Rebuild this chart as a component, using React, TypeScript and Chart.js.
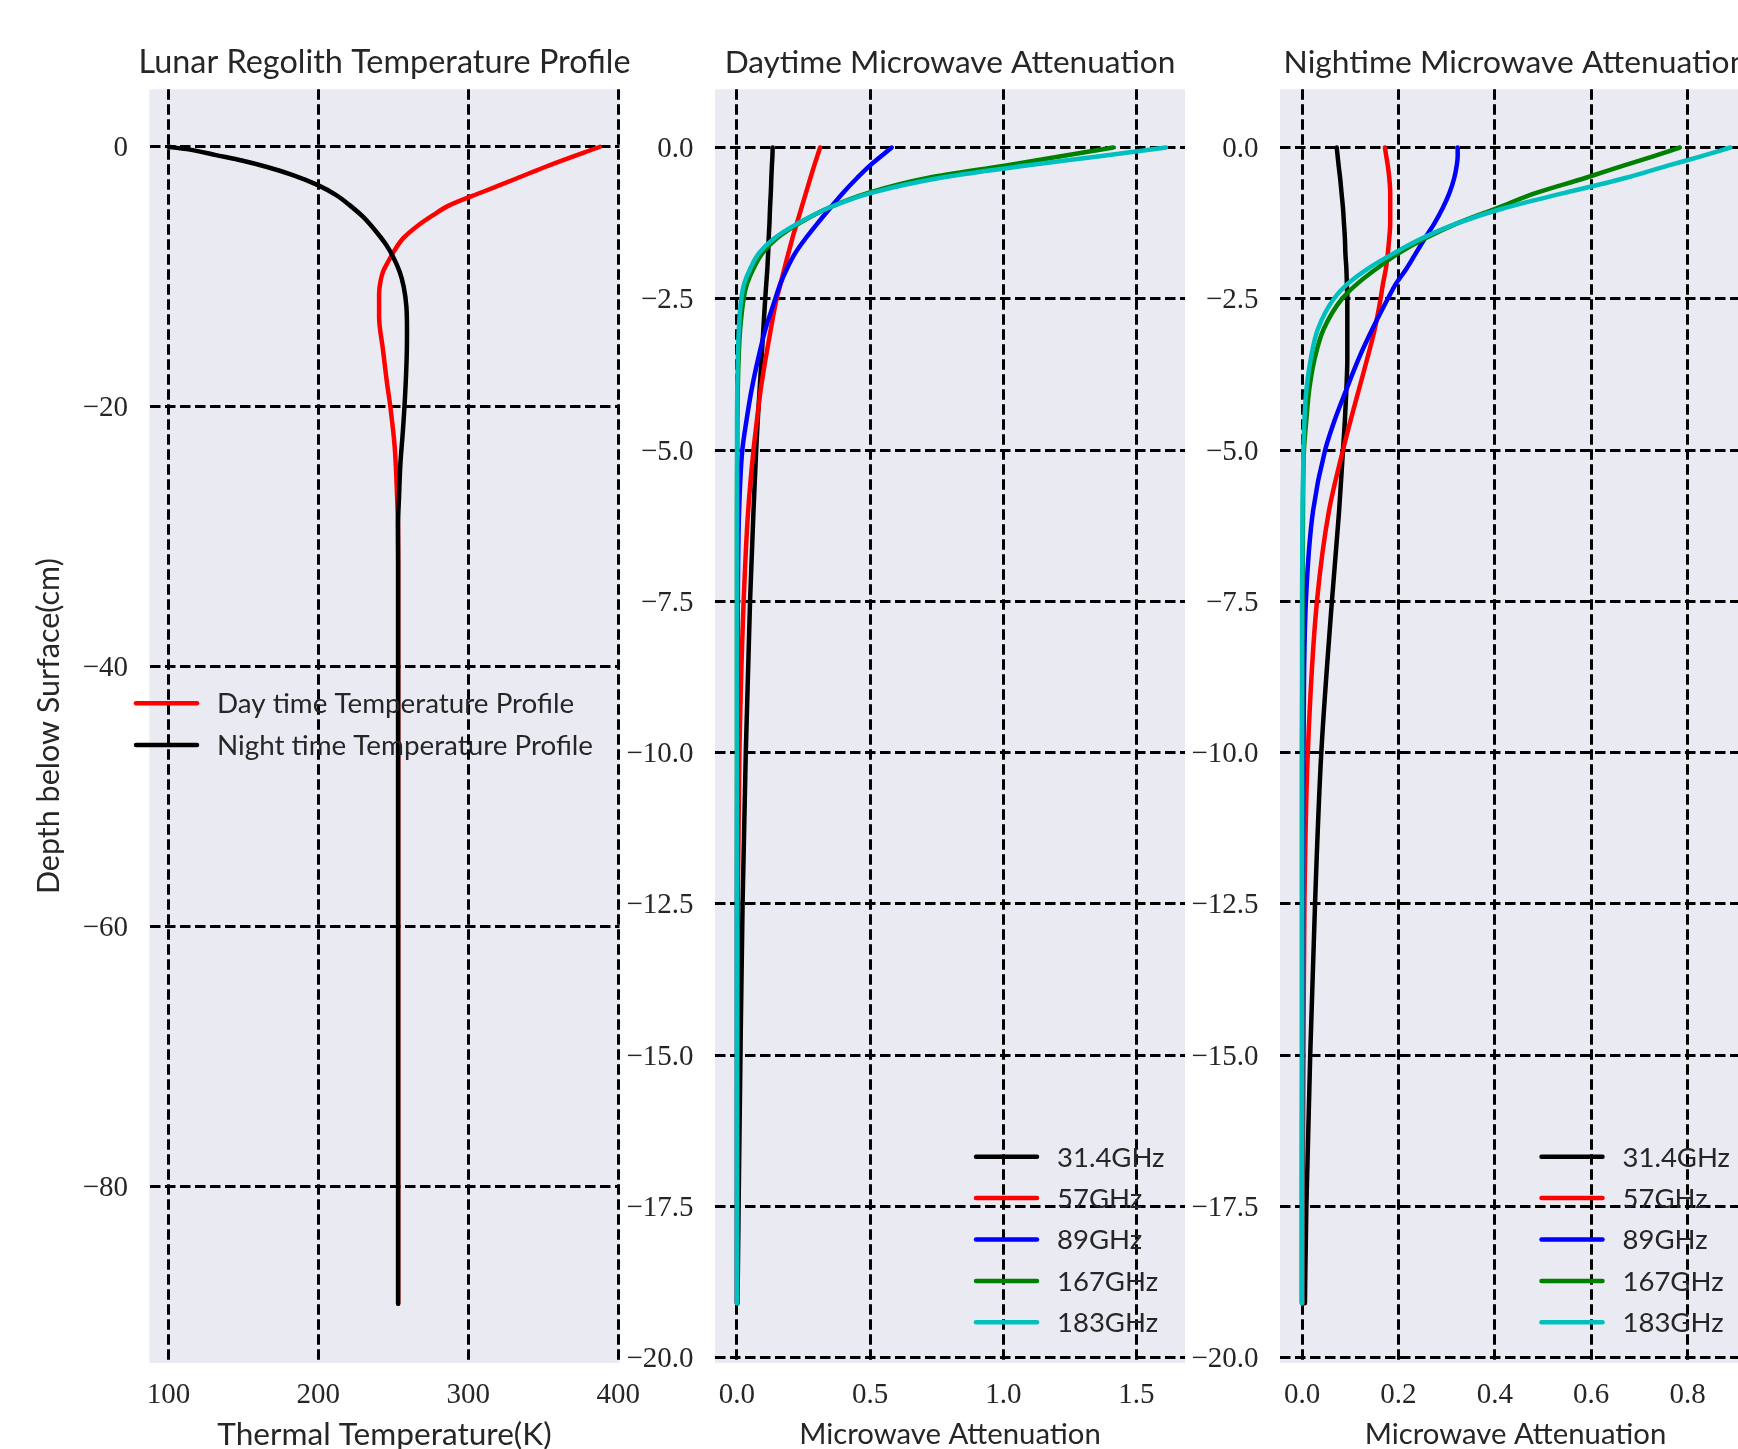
import React, { useEffect, useRef } from 'react';
import { Chart, registerables } from 'chart.js';

Chart.register(...registerables);

// ---------------- Panel 1: temperature profiles ----------------
const dayDepth = [0, -1.41, -2.44, -3.46, -4.49, -5.26, -6.15, -7.05, -7.95, -8.85, -9.62, -10.38, -11.28, -13.08, -15.64, -18.2, -20, -23.1, -26.9, -29.2, -32, -40, -50, -60, -70, -80, -89];
const dayTemp = [387.8, 354.4, 332.1, 309.9, 287.6, 276.5, 265.4, 256.5, 250.9, 246.5, 243.1, 241.4, 240.5, 240.5, 243.1, 245.8, 248.0, 250.9, 252.5, 253.1, 253.2, 253.2, 253.2, 253.2, 253.2, 253.2, 253.2];

const nightDepth = [0, -0.26, -0.64, -1.08, -1.54, -2.18, -2.95, -3.72, -4.49, -5.38, -6.54, -7.56, -8.46, -9.62, -10.77, -12.31, -14.1, -16.15, -19.2, -21.8, -24.4, -26.9, -29.2, -32, -40, -50, -60, -70, -80, -89];
const nightTemp = [100, 116.2, 131.8, 149.6, 165.2, 183.0, 199.7, 211.9, 220.8, 229.7, 238.6, 245.3, 249.8, 254.2, 256.9, 258.7, 259.1, 258.9, 257.8, 256.4, 254.7, 253.8, 253.1, 253.2, 253.2, 253.2, 253.2, 253.2, 253.2, 253.2];

const tempTicks = [100, 200, 300, 400];
const tempTickLabels = ['100', '200', '300', '400'];
const depthTicks = [0, -20, -40, -60, -80];
const depthTickLabels = ['0', '\u221220', '\u221240', '\u221260', '\u221280'];

// ---------------- Panels 2 & 3: microwave attenuation ----------------
const attDepth = [0, -0.15, -0.3, -0.5, -0.75, -1, -1.25, -1.5, -1.75, -2, -2.25, -2.5, -3, -3.5, -4, -4.5, -5, -6, -7.5, -10, -12.5, -15, -17.5, -19.1];
const freqLabels = ['31.4GHz', '57GHz', '89GHz', '167GHz', '183GHz'];

const day31 = [0.134, 0.133, 0.131, 0.129, 0.127, 0.124, 0.122, 0.119, 0.117, 0.114, 0.110, 0.106, 0.099, 0.092, 0.085, 0.078, 0.072, 0.062, 0.049, 0.033, 0.021, 0.013, 0.006, 0.002];
const day57 = [0.312, 0.301, 0.290, 0.276, 0.259, 0.242, 0.225, 0.208, 0.193, 0.178, 0.164, 0.149, 0.127, 0.107, 0.089, 0.075, 0.062, 0.042, 0.025, 0.009, 0.003, 0.001, 0.0005, 0];
const day89 = [0.581, 0.540, 0.499, 0.452, 0.398, 0.350, 0.303, 0.258, 0.218, 0.188, 0.163, 0.144, 0.107, 0.079, 0.055, 0.036, 0.020, 0.008, 0.003, 0.001, 0, 0, 0, 0];
const day167 = [1.413, 1.211, 1.005, 0.720, 0.493, 0.343, 0.235, 0.150, 0.095, 0.062, 0.038, 0.025, 0.012, 0.006, 0.003, 0.0015, 0.001, 0, 0, 0, 0, 0, 0, 0];
const day183 = [1.611, 1.355, 1.080, 0.765, 0.505, 0.343, 0.230, 0.140, 0.082, 0.050, 0.027, 0.016, 0.007, 0.003, 0.001, 0, 0, 0, 0, 0, 0, 0, 0, 0];

const night31 = [0.072, 0.074, 0.076, 0.079, 0.082, 0.085, 0.087, 0.089, 0.090, 0.092, 0.093, 0.094, 0.094, 0.094, 0.092, 0.089, 0.085, 0.077, 0.062, 0.040, 0.027, 0.017, 0.009, 0.006];
const night57 = [0.172, 0.175, 0.178, 0.181, 0.183, 0.183, 0.183, 0.181, 0.178, 0.174, 0.168, 0.163, 0.151, 0.135, 0.118, 0.101, 0.085, 0.056, 0.031, 0.012, 0.005, 0.003, 0.0015, 0.001];
const night89 = [0.323, 0.323, 0.321, 0.316, 0.306, 0.292, 0.275, 0.255, 0.236, 0.217, 0.195, 0.178, 0.146, 0.117, 0.092, 0.068, 0.048, 0.023, 0.008, 0.003, 0.001, 0.0005, 0, 0];
const night167 = [0.784, 0.727, 0.667, 0.589, 0.486, 0.405, 0.323, 0.256, 0.200, 0.155, 0.115, 0.083, 0.045, 0.026, 0.015, 0.009, 0.004, 0.002, 0.001, 0, 0, 0, 0, 0];
const night183 = [0.889, 0.826, 0.759, 0.673, 0.545, 0.420, 0.323, 0.249, 0.190, 0.137, 0.095, 0.066, 0.033, 0.018, 0.009, 0.005, 0.003, 0.001, 0, 0, 0, 0, 0, 0];

const attDepthTicks = [0, -2.5, -5, -7.5, -10, -12.5, -15, -17.5, -20];
const attDepthTickLabels = ['0.0', '\u22122.5', '\u22125.0', '\u22127.5', '\u221210.0', '\u221212.5', '\u221215.0', '\u221217.5', '\u221220.0'];
const dayAttTicks = [0, 0.5, 1, 1.5];
const dayAttTickLabels = ['0.0', '0.5', '1.0', '1.5'];
const nightAttTicks = [0, 0.2, 0.4, 0.6, 0.8];
const nightAttTickLabels = ['0.0', '0.2', '0.4', '0.6', '0.8'];

// ---------------- styling / layout ----------------
const CANVAS_W = 1780;
const CANVAS_H = 1449;
const PLOT_TOP = 89.3;
const PLOT_BOTTOM = 1363;
const TITLE_MID = 75.5; // effective reference line for title placement
const XTITLE_MID = 1435;
const SANS = 'Lato, "Open Sans", sans-serif';
const SERIF = '"Liberation Serif", "DejaVu Serif", serif';
const TEXT = '#262626';
const LINE_W = 4.5;
const freqColors = ['#000000', '#ff0000', '#0000ff', '#008000', '#00bfbf'];

const plotBg = {
  id: 'plotBg',
  beforeDraw(chart: any, _a: any, o: any) {
    const { ctx, chartArea: a } = chart;
    ctx.save();
    ctx.fillStyle = o.color;
    ctx.fillRect(a.left, a.top, a.right - a.left, a.bottom - a.top);
    ctx.restore();
  },
};

// Axes title centred over the plot area (not squeezed to the plot width)
const axTitle = {
  id: 'axTitle',
  afterDraw(chart: any, _a: any, o: any) {
    const { ctx, chartArea: a } = chart;
    ctx.save();
    ctx.font = `${o.size}px ${SANS}`;
    ctx.fillStyle = TEXT;
    ctx.textAlign = 'center';
    ctx.textBaseline = 'middle';
    ctx.fillText(o.text, (a.left + a.right) / 2, TITLE_MID - 0.387 * o.size);
    ctx.restore();
  },
};

const mplLegend = {
  id: 'mplLegend',
  afterDatasetsDraw(chart: any, _a: any, o: any) {
    const { ctx, chartArea: a } = chart;
    const x0 = (o.fromRight ? a.right : a.left) + o.dx;
    const y0 = (o.fromBottom ? a.bottom : a.top) + o.dy;
    ctx.save();
    ctx.font = `${o.size}px ${SANS}`;
    ctx.textBaseline = 'middle';
    ctx.textAlign = 'left';
    chart.data.datasets.forEach((ds: any, i: number) => {
      const y = y0 + i * o.rowGap;
      ctx.strokeStyle = ds.borderColor;
      ctx.lineWidth = o.lineWidth;
      ctx.lineCap = 'round';
      ctx.beginPath();
      ctx.moveTo(x0, y);
      ctx.lineTo(x0 + o.swatch, y);
      ctx.stroke();
      ctx.fillStyle = TEXT;
      ctx.fillText(ds.label, x0 + o.swatch + o.gap, y + 1);
    });
    ctx.restore();
  },
};

type Series = { label: string; xs: number[]; depth: number[]; color: string; order: number };

type Panel = {
  title: string;
  titleSize: number;
  xTitle: string;
  xTitleSize: number;
  yTitle?: string;
  series: Series[];
  L: number;
  R: number;
  padL: number;
  xMin: number;
  xMax: number;
  yMin: number;
  yMax: number;
  xTicks: number[];
  xLabels: string[];
  yTicks: number[];
  yLabels: string[];
  legend: any;
};

function makeConfig(p: Panel): any {
  const gridStyle = { color: '#000000', lineWidth: 3, drawTicks: false };
  const borderStyle = { display: false, dash: [10.5, 4.5] };
  const xts = p.xTitleSize;
  const xTitleBottom = CANVAS_H - xts / 2 - XTITLE_MID;
  return {
    type: 'line',
    data: {
      datasets: p.series.map((s) => ({
        label: s.label,
        data: s.xs.map((v, j) => ({ x: v, y: s.depth[j] })),
        borderColor: s.color,
        backgroundColor: s.color,
        borderWidth: LINE_W,
        pointRadius: 0,
        pointHoverRadius: 0,
        fill: false,
        cubicInterpolationMode: 'monotone',
        borderCapStyle: 'round',
        borderJoinStyle: 'round',
        order: s.order,
      })),
    },
    options: {
      animation: false,
      responsive: false,
      devicePixelRatio: 1,
      indexAxis: 'y',
      events: [],
      layout: { padding: { left: p.padL, right: CANVAS_W - p.R, top: PLOT_TOP, bottom: 0 } },
      plugins: {
        legend: { display: false },
        tooltip: { enabled: false },
        title: { display: false },
        axTitle: { text: p.title, size: p.titleSize },
        plotBg: { color: '#EAEAF2' },
        mplLegend: p.legend,
      },
      scales: {
        x: {
          type: 'linear',
          position: 'bottom',
          min: p.xMin,
          max: p.xMax,
          afterFit: (s: any) => { s.height = CANVAS_H - PLOT_BOTTOM; },
          afterBuildTicks: (s: any) => { s.ticks = p.xTicks.map((v) => ({ value: v })); },
          ticks: {
            callback: (_v: any, i: number) => p.xLabels[i],
            color: TEXT,
            font: { family: SERIF, size: 29, lineHeight: 1.2 },
            padding: 15,
            maxRotation: 0,
            autoSkip: false,
          },
          grid: gridStyle,
          border: borderStyle,
          title: {
            display: true,
            text: p.xTitle,
            color: TEXT,
            font: { family: SANS, size: xts, lineHeight: 1 },
            padding: { top: 0, bottom: xTitleBottom },
          },
        },
        y: {
          type: 'linear',
          position: 'left',
          min: p.yMin,
          max: p.yMax,
          afterFit: (s: any) => { s.width = p.L - p.padL; },
          afterBuildTicks: (s: any) => { s.ticks = p.yTicks.map((v) => ({ value: v })); },
          ticks: {
            callback: (_v: any, i: number) => p.yLabels[i],
            color: TEXT,
            font: { family: SERIF, size: 29, lineHeight: 1.2 },
            padding: 21.5,
            labelOffset: 2,
            autoSkip: false,
          },
          grid: gridStyle,
          border: borderStyle,
          title: {
            display: !!p.yTitle,
            text: p.yTitle || '',
            color: TEXT,
            font: { family: SANS, size: 30.5, lineHeight: 1 },
            padding: { top: 33.5, bottom: 0 },
          },
        },
      },
    },
    plugins: [plotBg, mplLegend, axTitle],
  };
}

const freqSeries = (values: number[][]): Series[] =>
  values.map((xs, i) => ({ label: freqLabels[i], xs, depth: attDepth, color: freqColors[i], order: 5 - i }));

const panels: Panel[] = [
  {
    title: 'Lunar Regolith Temperature Profile',
    titleSize: 32.4,
    xTitle: 'Thermal Temperature(K)',
    xTitleSize: 31.6,
    yTitle: 'Depth below Surface(cm)',
    series: [
      { label: 'Day time Temperature Profile', xs: dayTemp, depth: dayDepth, color: '#ff0000', order: 2 },
      { label: 'Night time Temperature Profile', xs: nightTemp, depth: nightDepth, color: '#000000', order: 1 },
    ],
    L: 149.5,
    R: 619.5,
    padL: 0,
    xMin: 87.4,
    xMax: 400.8,
    yMin: -93.56,
    yMax: 4.42,
    xTicks: tempTicks,
    xLabels: tempTickLabels,
    yTicks: depthTicks,
    yLabels: depthTickLabels,
    legend: { fromRight: false, fromBottom: false, dx: -13.5, dy: 614, rowGap: 41.7, swatch: 61, gap: 20, size: 27.8, lineWidth: LINE_W },
  },
  {
    title: 'Daytime Microwave Attenuation',
    titleSize: 31.6,
    xTitle: 'Microwave Attenuation',
    xTitleSize: 29.3,
    series: freqSeries([day31, day57, day89, day167, day183]),
    L: 715,
    R: 1185,
    padL: 560,
    xMin: -0.0826,
    xMax: 1.6825,
    yMin: -20.088,
    yMax: 0.962,
    xTicks: dayAttTicks,
    xLabels: dayAttTickLabels,
    yTicks: attDepthTicks,
    yLabels: attDepthTickLabels,
    legend: { fromRight: true, fromBottom: true, dx: -209, dy: -206.3, rowGap: 41.4, swatch: 61, gap: 20, size: 27.5, lineWidth: LINE_W },
  },
  {
    title: 'Nightime Microwave Attenuation',
    titleSize: 31.8,
    xTitle: 'Microwave Attenuation',
    xTitleSize: 29.3,
    series: freqSeries([night31, night57, night89, night167, night183]),
    L: 1280,
    R: 1751,
    padL: 1125,
    xMin: -0.0457,
    xMax: 0.9317,
    yMin: -20.088,
    yMax: 0.962,
    xTicks: nightAttTicks,
    xLabels: nightAttTickLabels,
    yTicks: attDepthTicks,
    yLabels: attDepthTickLabels,
    legend: { fromRight: true, fromBottom: true, dx: -209.5, dy: -206.3, rowGap: 41.4, swatch: 61, gap: 20, size: 27.5, lineWidth: LINE_W },
  },
];

export default function App() {
  const refs = [useRef<HTMLCanvasElement>(null), useRef<HTMLCanvasElement>(null), useRef<HTMLCanvasElement>(null)];

  useEffect(() => {
    let cancelled = false;
    let charts: Chart[] = [];
    const fontLoads = ['32px Lato', '29px "Liberation Serif"'].map((f) => (document as any).fonts.load(f));
    Promise.all(fontLoads)
      .catch(() => null)
      .then(() => {
        if (cancelled) return;
        charts = panels.map((p, i) => new Chart(refs[i].current as HTMLCanvasElement, makeConfig(p)));
      });
    return () => {
      cancelled = true;
      charts.forEach((c) => c.destroy());
      charts = [];
    };
  }, []);

  return (
    <div
      style={{
        position: 'fixed',
        left: 0,
        top: 0,
        width: 1738,
        height: 1449,
        overflow: 'hidden',
        background: '#ffffff',
      }}
    >
      {refs.map((r, i) => (
        <canvas
          key={i}
          ref={r}
          width={CANVAS_W}
          height={CANVAS_H}
          style={{ position: 'absolute', left: 0, top: 0, width: CANVAS_W, height: CANVAS_H }}
        />
      ))}
    </div>
  );
}
